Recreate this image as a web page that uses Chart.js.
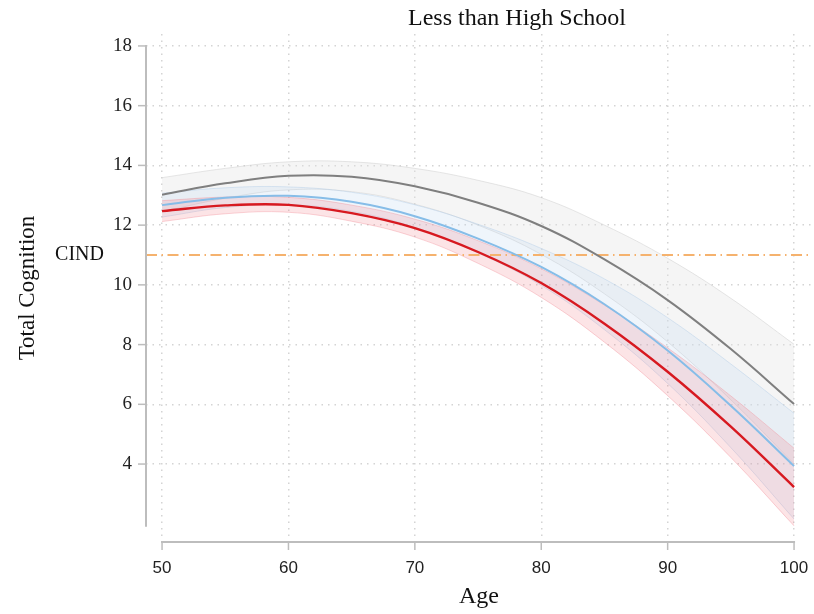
<!DOCTYPE html>
<html>
<head>
  <meta charset="UTF-8" />
  <title>Less than High School</title>
  <script src="https://cdn.jsdelivr.net/npm/chart.js"></script>
  <style>
    html, body { margin: 0; padding: 0; background: #fff; }
    .chart-box { width: 814px; height: 614px; position: relative; }
  </style>
</head>
<body>
  <div class="chart-box"><canvas id="chart"></canvas></div>

<script>
  // data
  const ages = [50, 55, 60, 65, 70, 75, 80, 85, 90, 95, 100]

  const grayMean = [13.02, 13.4, 13.65, 13.62, 13.3, 12.75, 11.97, 10.85, 9.49, 7.85, 6.01]
  const grayUpper = [13.59, 13.9, 14.12, 14.12, 13.9, 13.5, 12.92, 12.0, 10.89, 9.55, 8.01]
  const grayLower = [12.45, 12.9, 13.18, 13.12, 12.7, 12.0, 11.02, 9.7, 8.09, 6.15, 4.01]

  const blueMean = [12.67, 12.92, 12.98, 12.78, 12.3, 11.55, 10.6, 9.35, 7.8, 5.95, 3.93]
  const blueUpper = [13.07, 13.25, 13.28, 13.1, 12.68, 12.03, 11.22, 10.2, 8.9, 7.35, 5.7]
  const blueLower = [12.27, 12.59, 12.68, 12.46, 11.92, 11.07, 9.98, 8.5, 6.7, 4.55, 2.16]

  const redMean = [12.47, 12.66, 12.68, 12.4, 11.9, 11.1, 10.06, 8.7, 7.09, 5.25, 3.23]
  const redUpper = [12.82, 12.94, 12.93, 12.67, 12.2, 11.48, 10.54, 9.32, 7.89, 6.28, 4.53]
  const redLower = [12.12, 12.38, 12.43, 12.13, 11.6, 10.72, 9.58, 8.08, 6.29, 4.22, 1.93]

  const cindValue = 11
  const xTicks = [50, 60, 70, 80, 90, 100]
  const yTicks = [4, 6, 8, 10, 12, 14, 16, 18]

  const xMin = 48.73, xMax = 101.42
  const yMin = 1.39, yMax = 18.4

  const pts = (ys) => ys.map((y, i) => ({ x: ages[i], y: y }))

  function band(ys, border, fill, order, toNext) {
    return {
      data: pts(ys),
      borderColor: border,
      borderWidth: 1,
      backgroundColor: fill,
      fill: toNext ? '+1' : false,
      pointRadius: 0,
      tension: 0.4,
      order: order
    }
  }

  function line(ys, color, width, order) {
    return {
      data: pts(ys),
      borderColor: color,
      borderWidth: width,
      fill: false,
      pointRadius: 0,
      tension: 0.4,
      order: order
    }
  }

  // axis lines, tick marks, title and the CIND label
  const decor = {
    id: 'decor',
    afterDraw(chart) {
      const { ctx, chartArea } = chart
      const xs = chart.scales.x, ys = chart.scales.y
      ctx.save()
      ctx.strokeStyle = '#bdbdbd'
      ctx.lineWidth = 2
      // y axis
      ctx.beginPath()
      ctx.moveTo(chartArea.left, ys.getPixelForValue(18) - 1)
      ctx.lineTo(chartArea.left, ys.getPixelForValue(1.9))
      ctx.stroke()
      ctx.lineWidth = 1.5
      yTicks.forEach(v => {
        const y = ys.getPixelForValue(v)
        ctx.beginPath()
        ctx.moveTo(chartArea.left - 8, y)
        ctx.lineTo(chartArea.left, y)
        ctx.stroke()
      })
      // x axis
      ctx.lineWidth = 2
      ctx.beginPath()
      ctx.moveTo(xs.getPixelForValue(50) - 1, chartArea.bottom)
      ctx.lineTo(xs.getPixelForValue(100) + 1, chartArea.bottom)
      ctx.stroke()
      ctx.lineWidth = 1.5
      xTicks.forEach(v => {
        const x = xs.getPixelForValue(v)
        ctx.beginPath()
        ctx.moveTo(x, chartArea.bottom)
        ctx.lineTo(x, chartArea.bottom + 8)
        ctx.stroke()
      })
      // CIND label
      ctx.fillStyle = '#111'
      ctx.font = '20px "Liberation Serif"'
      ctx.textAlign = 'right'
      ctx.textBaseline = 'middle'
      ctx.fillText('CIND', 104, ys.getPixelForValue(cindValue))
      // title
      ctx.font = '24px "Liberation Serif"'
      ctx.textAlign = 'center'
      ctx.textBaseline = 'alphabetic'
      ctx.fillText('Less than High School', 517, 25)
      ctx.restore()
    }
  }

  new Chart(document.getElementById('chart').getContext('2d'), {
    type: 'line',
    data: {
      datasets: [
        band(grayUpper, 'rgba(200,200,200,0.45)', 'rgba(225,225,225,0.35)', 9, true),
        band(grayLower, 'rgba(200,200,200,0.45)', 'rgba(225,225,225,0.35)', 8, false),
        band(blueUpper, 'rgba(170,200,230,0.4)', 'rgba(190,215,240,0.25)', 7, true),
        band(blueLower, 'rgba(170,200,230,0.4)', 'rgba(190,215,240,0.25)', 6, false),
        band(redUpper, 'rgba(240,130,140,0.35)', 'rgba(240,120,130,0.2)', 5, true),
        band(redLower, 'rgba(240,130,140,0.35)', 'rgba(240,120,130,0.2)', 4, false),
        {
          data: [{ x: xMin, y: cindValue }, { x: xMax, y: cindValue }],
          borderColor: '#f5b26e',
          borderWidth: 2,
          borderDash: [11, 4.5, 1.5, 4.5],
          pointRadius: 0,
          fill: false,
          order: 3
        },
        line(grayMean, '#7f7f7f', 2, 2),
        line(blueMean, '#86bde8', 2, 1),
        line(redMean, '#d71920', 2.4, 0)
      ]
    },
    options: {
      responsive: true,
      maintainAspectRatio: false,
      animation: false,
      events: [],
      layout: { padding: { top: 34, right: 2, left: 0, bottom: 0 } },
      plugins: {
        legend: { display: false },
        tooltip: { enabled: false }
      },
      scales: {
        x: {
          type: 'linear',
          min: xMin,
          max: xMax,
          afterBuildTicks: (s) => { s.ticks = xTicks.map(v => ({ value: v })) },
          afterFit: (s) => { s.height = 72; s.paddingLeft = 0; s.paddingRight = 0 },
          grid: { color: '#d4d4d4', lineWidth: 1.5, drawTicks: false },
          border: { display: false, dash: [1.5, 5] },
          ticks: {
            color: '#222',
            padding: 16,
            font: { family: '"Liberation Sans"', size: 17 },
            maxRotation: 0
          },
          title: {
            display: true,
            text: 'Age',
            color: '#111',
            font: { family: '"Liberation Serif"', size: 24 },
            padding: { top: 0, bottom: 3 }
          }
        },
        y: {
          type: 'linear',
          min: yMin,
          max: yMax,
          afterBuildTicks: (s) => { s.ticks = yTicks.map(v => ({ value: v })) },
          afterFit: (s) => { s.width = 146 },
          grid: { color: '#d4d4d4', lineWidth: 1.5, drawTicks: false },
          border: { display: false, dash: [1.5, 5] },
          ticks: {
            color: '#222',
            padding: 14,
            font: { family: '"Liberation Serif"', size: 19 }
          },
          title: {
            display: true,
            text: 'Total Cognition',
            color: '#111',
            font: { family: '"Liberation Serif"', size: 23 },
            padding: { top: 14, bottom: 0 }
          }
        }
      }
    },
    plugins: [decor]
  })
</script>
</body>
</html>
